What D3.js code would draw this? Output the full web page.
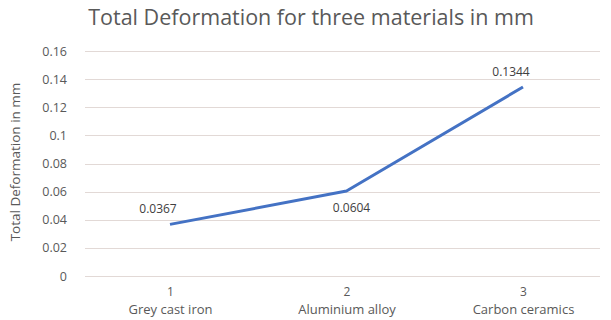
<!DOCTYPE html>
<html>
<head>
<meta charset="utf-8">
<script src="https://cdn.jsdelivr.net/npm/d3@7"></script>
<style>
  html, body { margin: 0; padding: 0; background: #fff; }
  svg { display: block; font-family: "Open Sans", "Noto Sans", sans-serif; }
</style>
</head>
<body>
<svg id="chart" width="611" height="320"></svg>
<script>
// Material index, material name and total deformation (mm)
const indices = ["1", "2", "3"];
const materials = ["Grey cast iron", "Aluminium alloy", "Carbon ceramics"];
const deformation = [0.0367, 0.0604, 0.1344];
const valueLabels = ["0.0367", "0.0604", "0.1344"];
const yTicks = [0, 0.02, 0.04, 0.06, 0.08, 0.1, 0.12, 0.14, 0.16];
const yTickLabels = ["0", "0.02", "0.04", "0.06", "0.08", "0.1", "0.12", "0.14", "0.16"];
// data label placement relative to point: above or below
const labelSide = ["above", "below", "above"];

const svg = d3.select("#chart");
const textColor = "#595959";

const plot = { left: 85, right: 600, top: 51, bottom: 276 };

const x = d3.scalePoint()
  .domain(indices)
  .range([170, 523]);

const y = d3.scaleLinear()
  .domain([0, 0.16])
  .range([plot.bottom, plot.top]);

// Title
svg.append("text")
  .attr("x", 311)
  .attr("y", 25)
  .attr("text-anchor", "middle")
  .attr("fill", textColor)
  .style("font-size", "21.5px")
  .text("Total Deformation for three materials in mm");

// Horizontal gridlines
svg.append("g")
  .selectAll("line")
  .data(yTicks)
  .join("line")
  .attr("x1", plot.left)
  .attr("x2", plot.right)
  .attr("y1", d => Math.round(y(d)) + 0.5)
  .attr("y2", d => Math.round(y(d)) + 0.5)
  .attr("stroke", "#e2d9d6")
  .attr("stroke-width", 1);

// Y axis tick labels
const yAxis = d3.axisLeft(y)
  .tickValues(yTicks)
  .tickFormat((d, i) => yTickLabels[i])
  .tickSize(0)
  .tickPadding(0);
const gy = svg.append("g")
  .attr("transform", `translate(${plot.left - 18},0)`)
  .call(yAxis);
gy.select(".domain").remove();
gy.selectAll("text")
  .attr("fill", textColor)
  .style("font-family", "'Open Sans', sans-serif")
  .style("font-size", "12.5px");

// Y axis title
svg.append("text")
  .attr("transform", "translate(20,162) rotate(-90)")
  .attr("text-anchor", "middle")
  .attr("fill", textColor)
  .style("font-size", "13.5px")
  .text("Total Deformation in mm");

// X axis category labels: index on the first line, material name below
const xAxis = d3.axisBottom(x).tickSize(0).tickPadding(0);
const gx = svg.append("g")
  .attr("transform", `translate(0,${plot.bottom})`)
  .call(xAxis);
gx.select(".domain").remove();
gx.selectAll(".tick text").remove();
gx.selectAll(".tick").each(function(d, i) {
  const tick = d3.select(this);
  tick.append("text")
    .attr("x", 0)
    .attr("y", 20)
    .attr("text-anchor", "middle")
    .attr("fill", textColor)
    .style("font-family", "'Open Sans', sans-serif")
    .style("font-size", "12px")
    .text(indices[i]);
  tick.append("text")
    .attr("x", 0)
    .attr("y", 38)
    .attr("text-anchor", "middle")
    .attr("fill", textColor)
    .style("font-family", "'Open Sans', sans-serif")
    .style("font-size", "13px")
    .text(materials[i]);
});

// Series line
const points = indices.map((k, i) => ({ k, v: deformation[i], label: valueLabels[i], side: labelSide[i] }));
svg.append("path")
  .datum(points)
  .attr("fill", "none")
  .attr("stroke", "#4472C4")
  .attr("stroke-width", 3)
  .attr("stroke-linejoin", "round")
  .attr("d", d3.line().x(d => x(d.k)).y(d => y(d.v)));

// Data labels
svg.append("g")
  .selectAll("text")
  .data(points)
  .join("text")
  .attr("x", d => x(d.k) + (d.side === "above" ? -12 : 5))
  .attr("y", d => d.side === "above" ? y(d.v) - 11 : y(d.v) + 21)
  .attr("text-anchor", "middle")
  .attr("fill", "#404040")
  .style("font-size", "12px")
  .text(d => d.label);
</script>
</body>
</html>
